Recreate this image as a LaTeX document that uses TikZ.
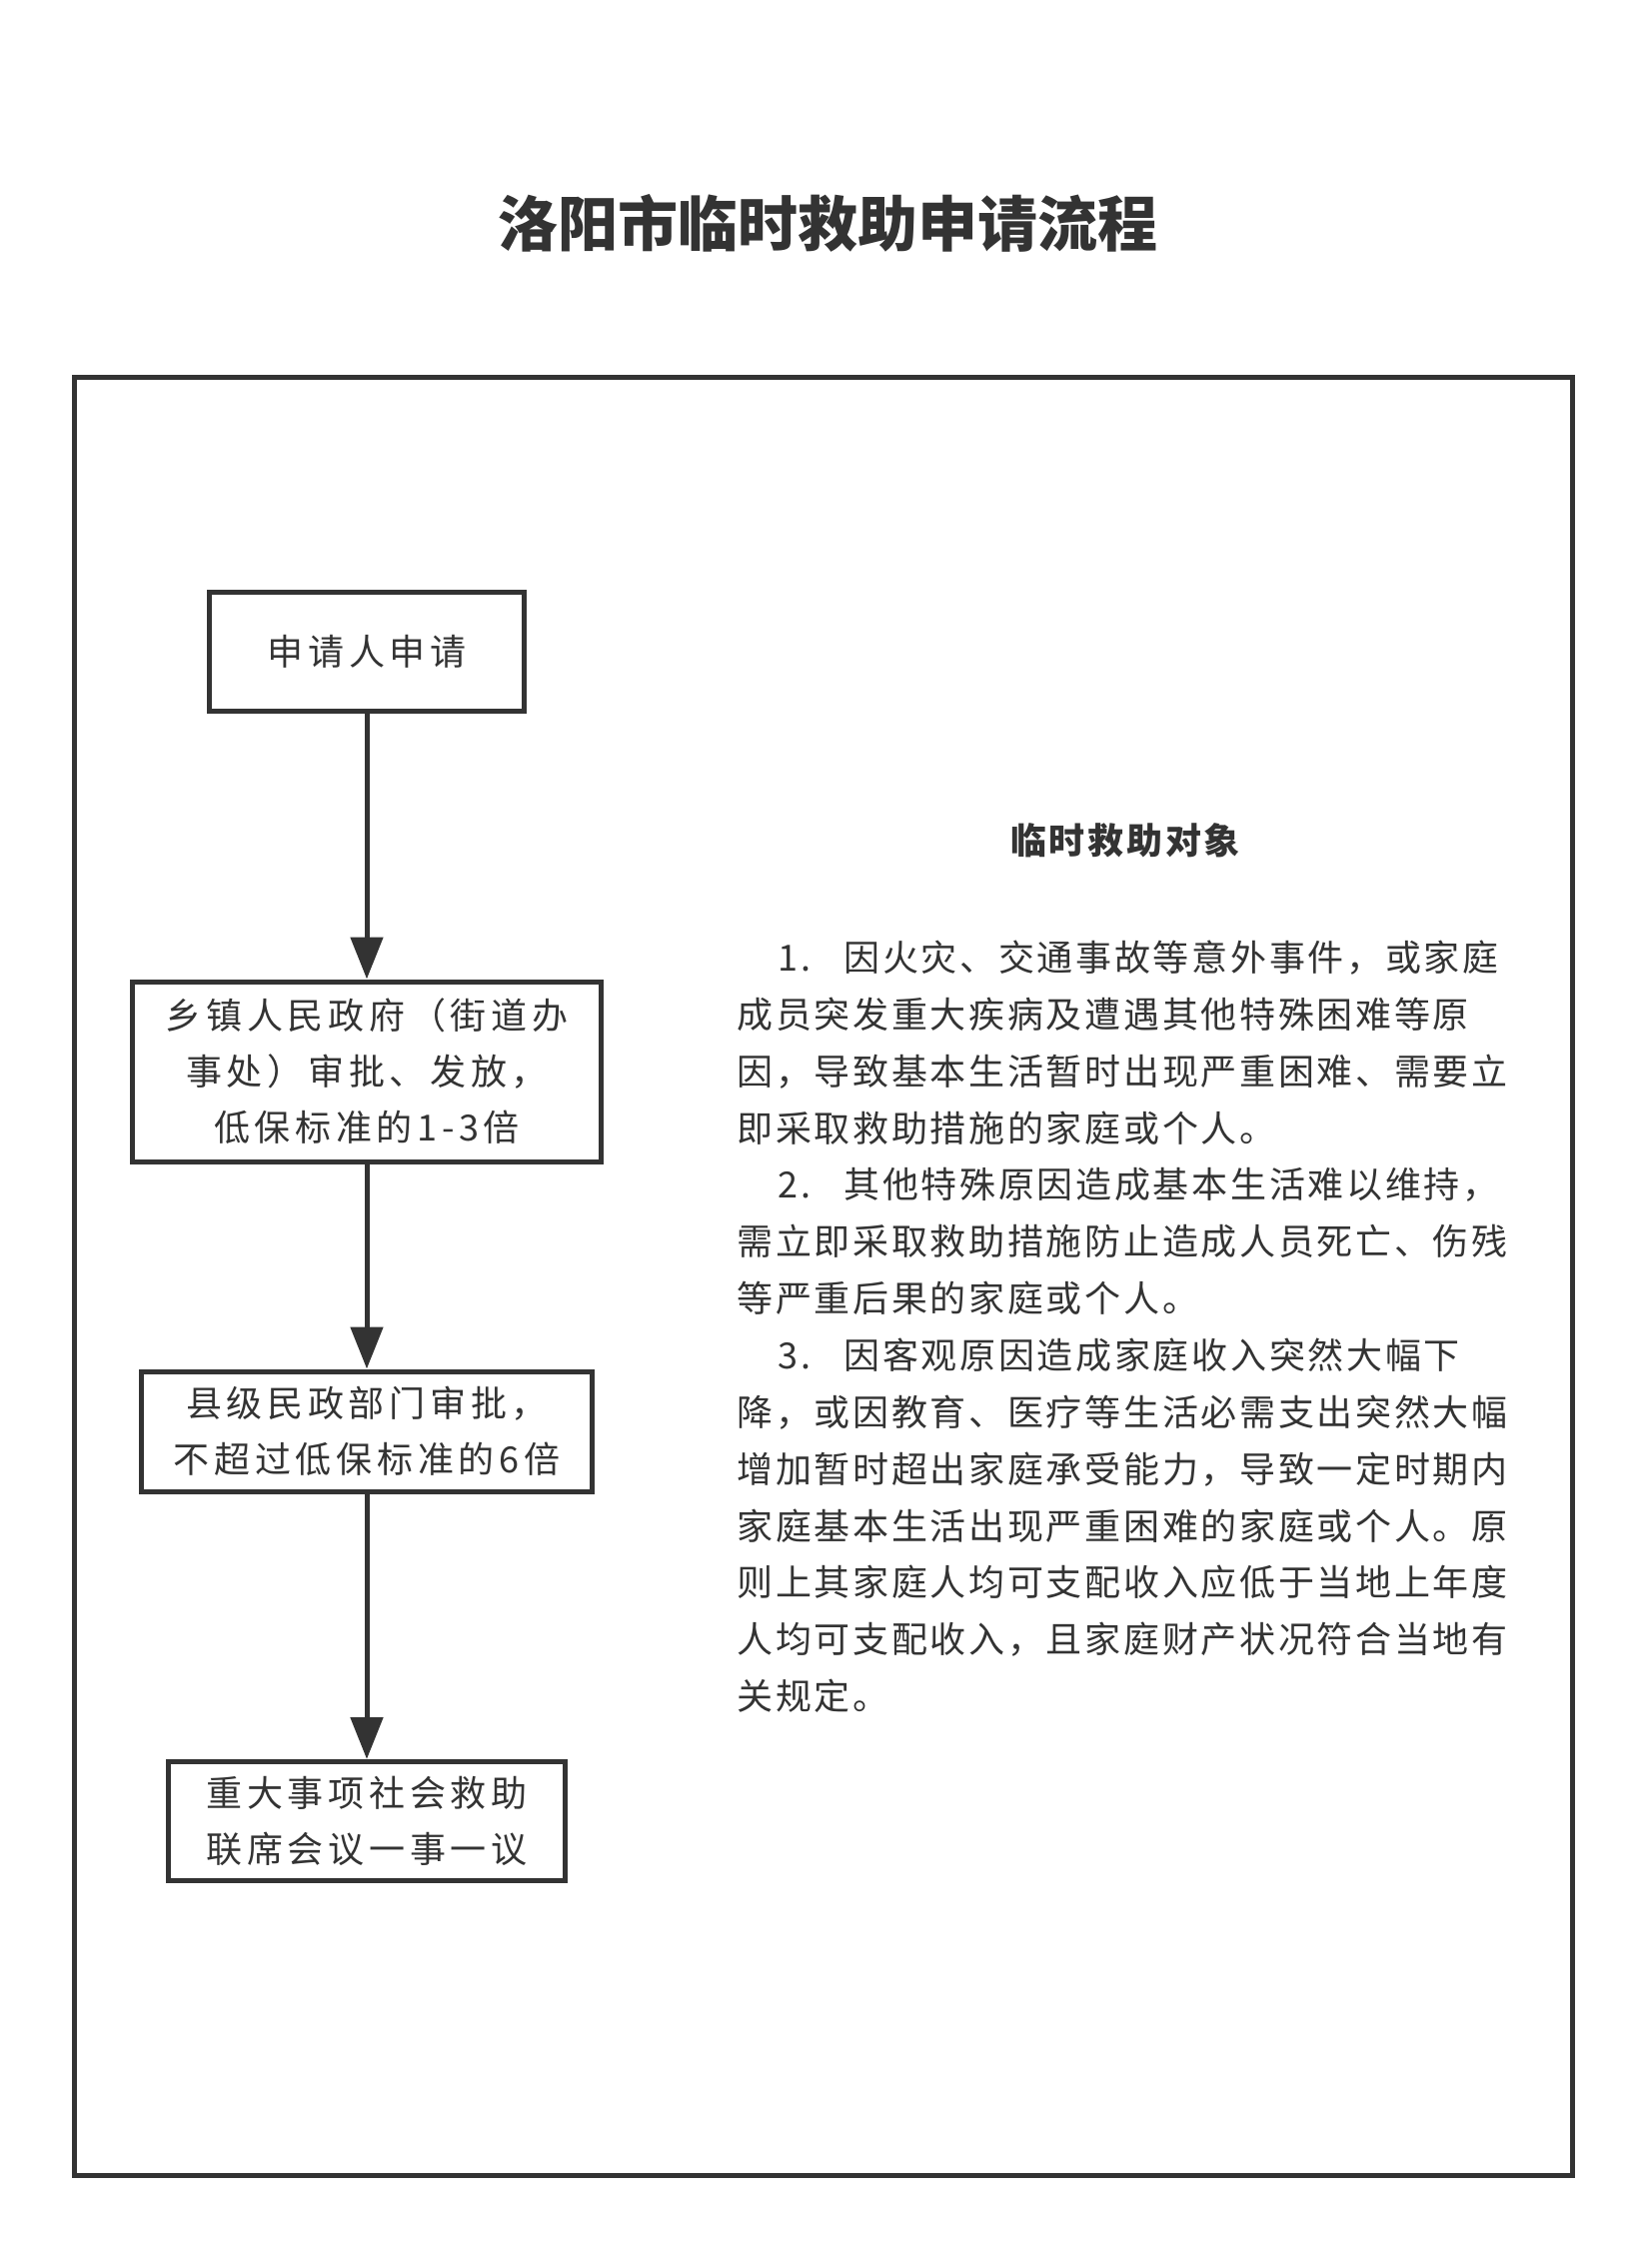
\documentclass[tikz,border=0pt]{standalone}
\usepackage{fontspec}
\setmainfont{Noto Sans CJK SC}
\newfontfamily\bodyfont[LetterSpace=7.5]{Noto Sans CJK SC}
\newfontfamily\boxfont[LetterSpace=13]{Noto Sans CJK SC}
\usetikzlibrary{arrows.meta}
\definecolor{ink}{RGB}{51,51,51}
\begin{document}
\begin{tikzpicture}[x=0.5pt,y=-0.5pt,
  flowbox/.style={draw=ink, line width=2.5pt, inner sep=0pt, align=center,
    text=ink, font={\boxfont\fontsize{18pt}{28pt}\selectfont}},
  arr/.style={draw=ink, line width=2.5pt, -{Triangle[width=16pt,length=21pt]}},
  bodyline/.style={anchor=base west, inner sep=0pt, text=ink,
    font={\bodyfont\fontsize{18pt}{28pt}\selectfont}},
  frame/.style={draw=ink, line width=2.5pt}]
\useasboundingbox (0,0) rectangle (1653,2251);
\draw[frame] (74,377) rectangle (1573,2176);
\node[anchor=base, inner sep=0pt, text=ink, font={\fontsize{30pt}{34pt}\selectfont\bfseries}] (title) at (828,246) {洛阳市临时救助申请流程};
% flow boxes
\node[flowbox, minimum width=157.5pt, minimum height=59.5pt] (b1) at (367,652) {申请人申请};
\node[flowbox, minimum width=234.5pt, minimum height=90pt] (b2) at (367,1072) {乡镇人民政府（街道办\\事处）审批、发放，\\低保标准的1-3倍};
\node[flowbox, minimum width=225.5pt, minimum height=60pt] (b3) at (367,1432) {县级民政部门审批，\\不超过低保标准的6倍};
\node[flowbox, minimum width=198.5pt, minimum height=59.5pt] (b4) at (367,1822) {重大事项社会救助\\联席会议一事一议};
\draw[arr] (b1.south) -- (b2.north);
\draw[arr] (b2.south) -- (b3.north);
\draw[arr] (b3.south) -- (b4.north);
% right text
\node[anchor=base, inner sep=0pt, text=ink, font={\bodyfont\fontsize{18pt}{28pt}\selectfont\bfseries}] (head) at (1126,854) {临时救助对象};
\node[bodyline] (n1) at (778,971) {1.};
\node[bodyline] (l1) at (844,971) {因火灾、交通事故等意外事件，或家庭};
\node[bodyline] (l2) at (737,1028) {成员突发重大疾病及遭遇其他特殊困难等原};
\node[bodyline] (l3) at (737,1085) {因，导致基本生活暂时出现严重困难、需要立};
\node[bodyline] (l4) at (737,1142) {即采取救助措施的家庭或个人。};
\node[bodyline] (n2) at (778,1198) {2.};
\node[bodyline] (l5) at (844,1198) {其他特殊原因造成基本生活难以维持，};
\node[bodyline] (l6) at (737,1255) {需立即采取救助措施防止造成人员死亡、伤残};
\node[bodyline] (l7) at (737,1312) {等严重后果的家庭或个人。};
\node[bodyline] (n3) at (778,1369) {3.};
\node[bodyline] (l8) at (844,1369) {因客观原因造成家庭收入突然大幅下};
\node[bodyline] (l9) at (737,1426) {降，或因教育、医疗等生活必需支出突然大幅};
\node[bodyline] (l10) at (737,1483) {增加暂时超出家庭承受能力，导致一定时期内};
\node[bodyline] (l11) at (737,1540) {家庭基本生活出现严重困难的家庭或个人。原};
\node[bodyline] (l12) at (737,1596) {则上其家庭人均可支配收入应低于当地上年度};
\node[bodyline] (l13) at (737,1653) {人均可支配收入，且家庭财产状况符合当地有};
\node[bodyline] (l14) at (737,1710) {关规定。};
\end{tikzpicture}
\end{document}
